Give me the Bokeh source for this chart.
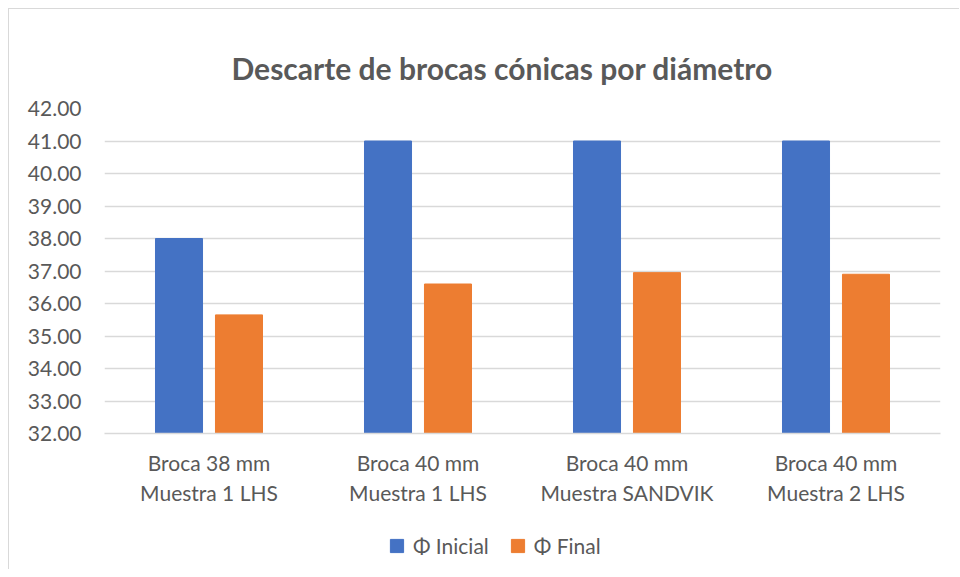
from bokeh.plotting import figure
from bokeh.layouts import column
from bokeh.models import (ColumnDataSource, FactorRange, Range1d, FixedTicker, Legend, LegendItem,
                          NumeralTickFormatter)
from bokeh.transform import dodge
from bokeh.embed import file_html
from bokeh.resources import INLINE

categories = ["Broca 38 mm\nMuestra 1 LHS", "Broca 40 mm\nMuestra 1 LHS",
              "Broca 40 mm\nMuestra SANDVIK", "Broca 40 mm\nMuestra 2 LHS"]
inicial = [38.0, 41.0, 41.0, 41.0]
final = [35.65, 36.6, 36.95, 36.9]
series_names = ["\u03a6 Inicial", "\u03a6 Final"]
y_ticks = [32, 33, 34, 35, 36, 37, 38, 39, 40, 41, 42]

FONT = "Lato"
TXT = "#595959"
GRID = "#d9d9d9"
BLUE = "#4472C4"
ORANGE = "#ED7D31"

src = ColumnDataSource(data=dict(cat=categories, ini=inicial, fin=final))

p = figure(x_range=FactorRange(*categories), y_range=Range1d(32, 42),
           width=950, height=504, output_backend="svg", toolbar_location=None,
           min_border_left=95, min_border_right=19, min_border_top=99, min_border_bottom=80)

p.vbar(x=dodge("cat", -0.1435, range=p.x_range), top="ini", bottom=32, width=0.225,
       source=src, color=BLUE)
p.vbar(x=dodge("cat", 0.1435, range=p.x_range), top="fin", bottom=32, width=0.225,
       source=src, color=ORANGE)

p.title.text = "Descarte de brocas c\u00f3nicas por di\u00e1metro"
p.title.align = "left"
p.title.offset = 127
p.title.vertical_align = "top"
p.title.text_font = FONT
p.title.text_font_size = "30px"
p.title.text_font_style = "bold"
p.title.text_color = TXT
p.title.standoff = 41

p.outline_line_color = None
p.background_fill_color = "white"
p.border_fill_color = "white"

p.yaxis.ticker = FixedTicker(ticks=y_ticks)
p.yaxis.formatter = NumeralTickFormatter(format="0.00")
p.yaxis.axis_line_color = None
p.yaxis.major_tick_line_color = None
p.yaxis.minor_tick_line_color = None
p.yaxis.major_tick_out = 0
p.yaxis.major_label_text_font = FONT
p.yaxis.major_label_text_font_size = "21px"
p.yaxis.major_label_text_color = TXT
p.yaxis.major_label_standoff = 23

p.xaxis.axis_line_color = GRID
p.xaxis.axis_line_width = 1.5
p.xaxis.major_tick_line_color = None
p.xaxis.minor_tick_line_color = None
p.xaxis.major_label_text_font = FONT
p.xaxis.major_label_text_font_size = "21px"
p.xaxis.major_label_text_color = TXT
p.xaxis.major_label_standoff = 10

p.xgrid.grid_line_color = None
p.ygrid.grid_line_color = GRID
p.ygrid.grid_line_width = 1.5

# legend strip below the chart: its square markers lie far outside its own y range,
# so only the legend entries show
lg = figure(x_range=p.x_range, y_range=Range1d(0, 1), width=950, height=56,
            output_backend="svg", toolbar_location=None, x_axis_type=None, y_axis_type=None,
            min_border=0, outline_line_color=None)
lg.grid.visible = False
l1 = lg.scatter(x=dodge("cat", -0.1435, range=lg.x_range), y="ini", marker="square", size=13,
                source=src, color=BLUE)
l2 = lg.scatter(x=dodge("cat", 0.1435, range=lg.x_range), y="fin", marker="square", size=13,
                source=src, color=ORANGE)
legend = Legend(items=[LegendItem(label=series_names[0], renderers=[l1]),
                       LegendItem(label=series_names[1], renderers=[l2])],
                orientation="horizontal", location=(276, 7),
                label_text_font=FONT, label_text_font_size="21px", label_text_color=TXT,
                glyph_width=33, glyph_height=33, spacing=12, label_standoff=0,
                border_line_color=None, background_fill_alpha=0, margin=0, padding=0)
lg.add_layout(legend, "center")

layout = column(p, lg, spacing=0,
                styles={"margin-left": "8px", "margin-top": "8px",
                        "border-left": "1px solid #d9d9d9", "border-top": "1px solid #d9d9d9"})

open("out.html", "w").write(file_html(layout, INLINE))
